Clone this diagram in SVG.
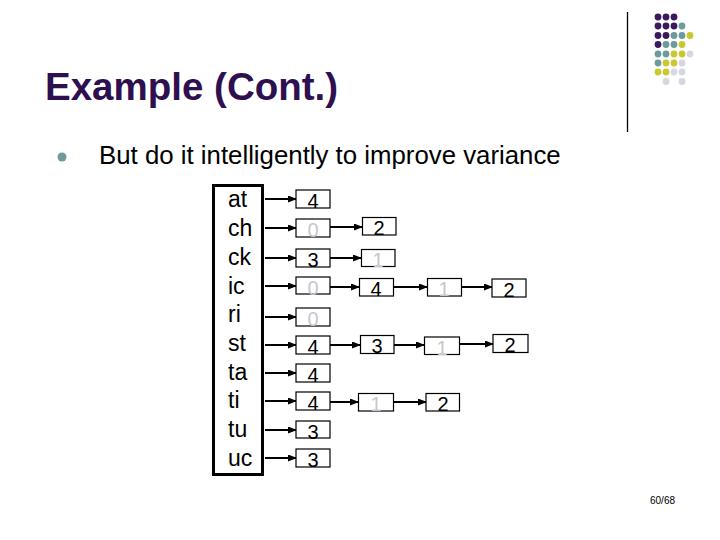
<svg xmlns="http://www.w3.org/2000/svg" width="720" height="540" viewBox="0 0 720 540">
<defs>
<marker id="ah" markerWidth="9" markerHeight="7" refX="8" refY="3.5" orient="auto" markerUnits="userSpaceOnUse">
<path d="M0,0 L9,3.5 L0,7 Z" fill="#000"/>
</marker>
<style>
.lbl{font-family:"Liberation Sans",Arial,sans-serif;font-size:23px;fill:#000}
.box{fill:#fff;stroke:#000;stroke-width:1.2}
.d{font-family:"Liberation Sans",Arial,sans-serif;font-size:20px;fill:#000;text-anchor:middle}
.g{fill:#c6c6d0}
.c{stroke:#000;stroke-width:2;fill:none;marker-end:url(#ah)}
.p{fill:#3a1a5c}.t{fill:#6f9a9c}.y{fill:#c8c830}.l{fill:#d6d6e4}
</style>
</defs>
<rect width="720" height="540" fill="#fff"/>
<g id="decor">
<line x1="627.5" y1="12" x2="627.5" y2="132" stroke="#000" stroke-width="1.3"/>
<circle class="p" cx="658" cy="17" r="3.4"/><circle class="p" cx="666" cy="17" r="3.4"/><circle class="p" cx="674" cy="17" r="3.4"/>
<circle class="p" cx="658" cy="26" r="3.4"/><circle class="p" cx="666" cy="26" r="3.4"/><circle class="p" cx="674" cy="26" r="3.4"/><circle class="t" cx="682" cy="26" r="3.4"/>
<circle class="p" cx="658" cy="35.5" r="3.4"/><circle class="p" cx="666" cy="35.5" r="3.4"/><circle class="t" cx="674" cy="35.5" r="3.4"/><circle class="t" cx="682" cy="35.5" r="3.4"/><circle class="y" cx="690" cy="35.5" r="3.4"/>
<circle class="p" cx="658" cy="44.5" r="3.4"/><circle class="t" cx="666" cy="44.5" r="3.4"/><circle class="t" cx="674" cy="44.5" r="3.4"/><circle class="y" cx="682" cy="44.5" r="3.4"/>
<circle class="t" cx="658" cy="54" r="3.4"/><circle class="t" cx="666" cy="54" r="3.4"/><circle class="y" cx="674" cy="54" r="3.4"/><circle class="y" cx="682" cy="54" r="3.4"/><circle class="l" cx="690" cy="54" r="3.4"/>
<circle class="t" cx="658" cy="63" r="3.4"/><circle class="y" cx="666" cy="63" r="3.4"/><circle class="y" cx="674" cy="63" r="3.4"/><circle class="l" cx="682" cy="63" r="3.4"/>
<circle class="y" cx="658" cy="72" r="3.4"/><circle class="y" cx="666" cy="72" r="3.4"/><circle class="l" cx="674" cy="72" r="3.4"/><circle class="l" cx="682" cy="72" r="3.4"/>
<circle class="l" cx="666" cy="81.5" r="3.4"/><circle class="l" cx="682" cy="81.5" r="3.4"/>
</g>
<g id="title">
<text x="45" y="100" font-family="'Liberation Sans',Arial,sans-serif" font-size="38.5" font-weight="bold" fill="#2e1050">Example (Cont.)</text>
</g>
<g id="bullet">
<circle cx="62" cy="157" r="4.5" fill="#6f9a9c"/>
<text x="99" y="164" font-family="'Liberation Sans',Arial,sans-serif" font-size="25.8" fill="#000">But do it intelligently to improve variance</text>
</g>
<g id="table">
<rect x="213.5" y="185.5" width="49" height="289" fill="#fff" stroke="#000" stroke-width="3"/>
<text class="lbl" x="228" y="207">at</text>
<text class="lbl" x="228" y="236">ch</text>
<text class="lbl" x="228" y="265">ck</text>
<text class="lbl" x="228" y="294">ic</text>
<text class="lbl" x="228" y="322">ri</text>
<text class="lbl" x="228" y="351">st</text>
<text class="lbl" x="228" y="380">ta</text>
<text class="lbl" x="228" y="408">ti</text>
<text class="lbl" x="228" y="437">tu</text>
<text class="lbl" x="228" y="466">uc</text>
</g>
<g id="connectors">
<line class="c" x1="265" y1="199" x2="296" y2="199"/>
<line class="c" x1="265" y1="228" x2="296" y2="228"/>
<line class="c" x1="265" y1="258" x2="296" y2="258"/>
<line class="c" x1="265" y1="286" x2="296" y2="286"/>
<line class="c" x1="265" y1="317" x2="296" y2="317"/>
<line class="c" x1="265" y1="345" x2="296" y2="345"/>
<line class="c" x1="265" y1="373" x2="296" y2="373"/>
<line class="c" x1="265" y1="401" x2="296" y2="401"/>
<line class="c" x1="265" y1="430" x2="296" y2="430"/>
<line class="c" x1="265" y1="458" x2="296" y2="458"/>
<line class="c" x1="330" y1="227" x2="362" y2="227"/>
<line class="c" x1="330" y1="258" x2="361" y2="258"/>
<line class="c" x1="330" y1="287" x2="359" y2="287"/>
<line class="c" x1="393" y1="287" x2="427" y2="287"/>
<line class="c" x1="462" y1="287" x2="492" y2="287"/>
<line class="c" x1="330" y1="345" x2="360" y2="345"/>
<line class="c" x1="394" y1="345" x2="424" y2="345"/>
<line class="c" x1="460" y1="344" x2="493" y2="344"/>
<line class="c" x1="330" y1="402" x2="358" y2="402"/>
<line class="c" x1="393" y1="402" x2="426" y2="402"/>
</g>
<g id="col1">
<g id="n-at"><rect class="box" x="296" y="190" width="34" height="18"/><text class="d" x="313" y="208">4</text></g>
<g id="n-ch"><rect class="box" x="296" y="219" width="34" height="18"/><text class="d g" x="313" y="237">0</text></g>
<g id="n-ck"><rect class="box" x="296" y="249" width="34" height="18"/><text class="d" x="313" y="267">3</text></g>
<g id="n-ic"><rect class="box" x="296" y="277" width="34" height="17"/><text class="d g" x="313" y="295">0</text></g>
<g id="n-ri"><rect class="box" x="296" y="308" width="34" height="18"/><text class="d g" x="313" y="326">0</text></g>
<g id="n-st"><rect class="box" x="296" y="336" width="34" height="18"/><text class="d" x="313" y="354">4</text></g>
<g id="n-ta"><rect class="box" x="296" y="364" width="34" height="18"/><text class="d" x="313" y="382">4</text></g>
<g id="n-ti"><rect class="box" x="296" y="392" width="34" height="18"/><text class="d" x="313" y="410">4</text></g>
<g id="n-tu"><rect class="box" x="296" y="421" width="34" height="17"/><text class="d" x="313" y="439">3</text></g>
<g id="n-uc"><rect class="box" x="296" y="449" width="34" height="18"/><text class="d" x="313" y="467">3</text></g>
</g>
<g id="rest">
<g id="n-ch2"><rect class="box" x="362.5" y="217.5" width="33.5" height="17.5"/><text class="d" x="379" y="235">2</text></g>
<g id="n-ck2"><rect class="box" x="361.5" y="249.5" width="33.5" height="17"/><text class="d g" x="378" y="267">1</text></g>
<g id="n-ic2"><rect class="box" x="359.5" y="278.5" width="34" height="17.5"/><text class="d" x="376" y="296">4</text></g>
<g id="n-ic3"><rect class="box" x="427.5" y="278.5" width="34" height="17.5"/><text class="d g" x="444" y="296">1</text></g>
<g id="n-ic4"><rect class="box" x="492" y="279" width="34" height="18"/><text class="d" x="509" y="297">2</text></g>
<g id="n-st2"><rect class="box" x="360.5" y="335.5" width="33.5" height="18"/><text class="d" x="377" y="353">3</text></g>
<g id="n-st3"><rect class="box" x="424.5" y="337" width="35" height="17.5"/><text class="d g" x="442" y="355">1</text></g>
<g id="n-st4"><rect class="box" x="493" y="334.5" width="35" height="18"/><text class="d" x="510" y="352">2</text></g>
<g id="n-ti2"><rect class="box" x="358.5" y="393.5" width="35" height="17.5"/><text class="d g" x="376" y="411">1</text></g>
<g id="n-ti3"><rect class="box" x="426" y="393.5" width="33.5" height="17.5"/><text class="d" x="443" y="411">2</text></g>
</g>
<text x="650" y="504" font-family="'Liberation Sans',Arial,sans-serif" font-size="10" fill="#000">60/68</text>
</svg>
